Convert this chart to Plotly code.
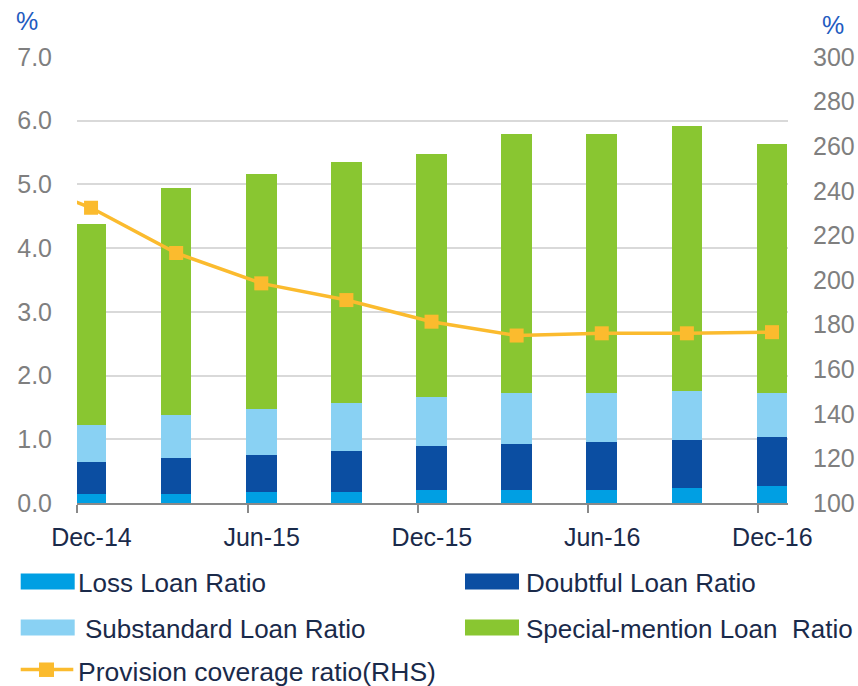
import plotly.graph_objects as go

# ---------------- data ----------------
categories = ["Dec-14", "Mar-15", "Jun-15", "Sep-15", "Dec-15",
              "Mar-16", "Jun-16", "Sep-16", "Dec-16"]
loss = [0.14, 0.14, 0.17, 0.17, 0.20, 0.20, 0.20, 0.24, 0.26]
doubtful = [0.50, 0.56, 0.59, 0.65, 0.69, 0.72, 0.76, 0.75, 0.78]
substandard = [0.59, 0.68, 0.72, 0.75, 0.78, 0.81, 0.77, 0.77, 0.69]
special_mention = [3.15, 3.57, 3.69, 3.78, 3.81, 4.06, 4.06, 4.16, 3.91]
# provision coverage ratio (RHS); the line enters from a prior period (Sep-14) off the left edge
line_categories = ["Sep-14"] + categories
provision = [247.0, 232.4, 212.1, 198.5, 191.0, 181.3, 175.1, 176.1, 176.1, 176.6]
names = ["Loss Loan Ratio", "Doubtful Loan Ratio", "Substandard Loan Ratio",
         "Special-mention Loan  Ratio", "Provision coverage ratio(RHS)"]
shown_ticks = ["Dec-14", "Jun-15", "Dec-15", "Jun-16", "Dec-16"]

# ---------------- styling ----------------
W, H = 858, 686
PL, PR, PT, PB = 77, 788, 56.7, 503.3
colors = ["#009FE3", "#0B4EA2", "#89D1F3", "#89C631"]
line_color = "#FBBB2E"
FONT = "Liberation Sans, Arial, sans-serif"
navy = "#1A2A4A"
grey = "#7F7F7F"

x_idx = list(range(len(categories)))
line_x = [line_categories.index(c) - 1 for c in line_categories]

fig = go.Figure()
for vals, name, col in zip([loss, doubtful, substandard, special_mention], names[:4], colors):
    fig.add_trace(go.Bar(x=x_idx, y=vals, name=name, marker=dict(color=col, line=dict(width=0)),
                         width=0.36, showlegend=False))
fig.add_trace(go.Scatter(x=line_x, y=provision, name=names[4], yaxis="y2", mode="lines+markers",
                         line=dict(color=line_color, width=3.5),
                         marker=dict(symbol="square", size=14, color=line_color),
                         showlegend=False))

tick_offset = -0.16
tickvals = [categories.index(c) + tick_offset for c in shown_ticks]

fig.update_layout(
    width=W, height=H,
    margin=dict(l=PL, r=W - PR, t=PT, b=H - PB, pad=0, autoexpand=False),
    barmode="stack",
    plot_bgcolor="white", paper_bgcolor="white",
    font=dict(family=FONT, size=25, color=navy),
    xaxis=dict(range=[-0.165, 8.188], tickvals=tickvals, ticktext=shown_ticks,
               ticklabelshift=14, ticks="outside", ticklen=8, tickwidth=1.5,
               tickcolor="#898989", showline=True, linecolor="#898989", linewidth=1.5,
               showgrid=False, zeroline=False, tickfont=dict(size=25, color=navy),
               ticklabelstandoff=3, automargin=False),
    yaxis=dict(range=[0, 7], dtick=1, tickformat=".1f", showgrid=True, gridcolor="#D9D9D9",
               gridwidth=1.5, zeroline=False, showline=False, ticks="",
               tickfont=dict(size=25, color=grey), ticklabelstandoff=24, automargin=False),
    yaxis2=dict(range=[100, 300], dtick=20, overlaying="y", side="right", showgrid=False,
                zeroline=False, showline=False, ticks="",
                tickfont=dict(size=25, color=grey), ticklabelstandoff=24, automargin=False),
)


def px2paper(x, y):
    return (x - PL) / (PR - PL), (PB - y) / (PB - PT)


shapes = []
annotations = []

# "%" axis unit labels
for xp, yp in [(26.5, 21), (832.5, 25)]:
    ax_, ay_ = px2paper(xp, yp)
    annotations.append(dict(x=ax_, y=ay_, xref="paper", yref="paper", text="%", showarrow=False,
                            xanchor="center", yanchor="middle",
                            font=dict(size=25, color="#1F5BC0", family=FONT)))

# manual legend
legend_items = [
    (0, 20.7, 582, 78),
    (1, 465, 582, 526),
    (2, 20.7, 628, 85),
    (3, 465, 628, 526),
]
for i, sx, cy, tx in legend_items:
    x0, y0 = px2paper(sx, cy - 8)
    x1, y1 = px2paper(sx + 54, cy + 8)
    shapes.append(dict(type="rect", xref="paper", yref="paper", x0=x0, y0=y0, x1=x1, y1=y1,
                       fillcolor=colors[i], line=dict(width=0)))
    ax_, ay_ = px2paper(tx - 2, cy + 1)
    annotations.append(dict(x=ax_, y=ay_, xref="paper", yref="paper", text=names[i],
                            showarrow=False, xanchor="left", yanchor="middle",
                            font=dict(size=26, color=navy, family=FONT)))

# line legend entry
lx0, ly = px2paper(20.7, 670)
lx1, _ = px2paper(73.3, 670)
shapes.append(dict(type="line", xref="paper", yref="paper", x0=lx0, y0=ly, x1=lx1, y1=ly,
                   line=dict(color=line_color, width=3.5)))
mx0, my0 = px2paper(39, 663)
mx1, my1 = px2paper(54, 677.5)
shapes.append(dict(type="rect", xref="paper", yref="paper", x0=mx0, y0=my0, x1=mx1, y1=my1,
                   fillcolor=line_color, line=dict(width=0)))
ax_, ay_ = px2paper(76, 673)
annotations.append(dict(x=ax_, y=ay_, xref="paper", yref="paper", text=names[4],
                        showarrow=False, xanchor="left", yanchor="middle",
                        font=dict(size=26.5, color=navy, family=FONT)))

fig.update_layout(shapes=shapes, annotations=annotations)
fig.write_html("out.html", config={"displayModeBar": False},
               post_script="document.body.style.margin='0';document.body.style.overflow='hidden';")
